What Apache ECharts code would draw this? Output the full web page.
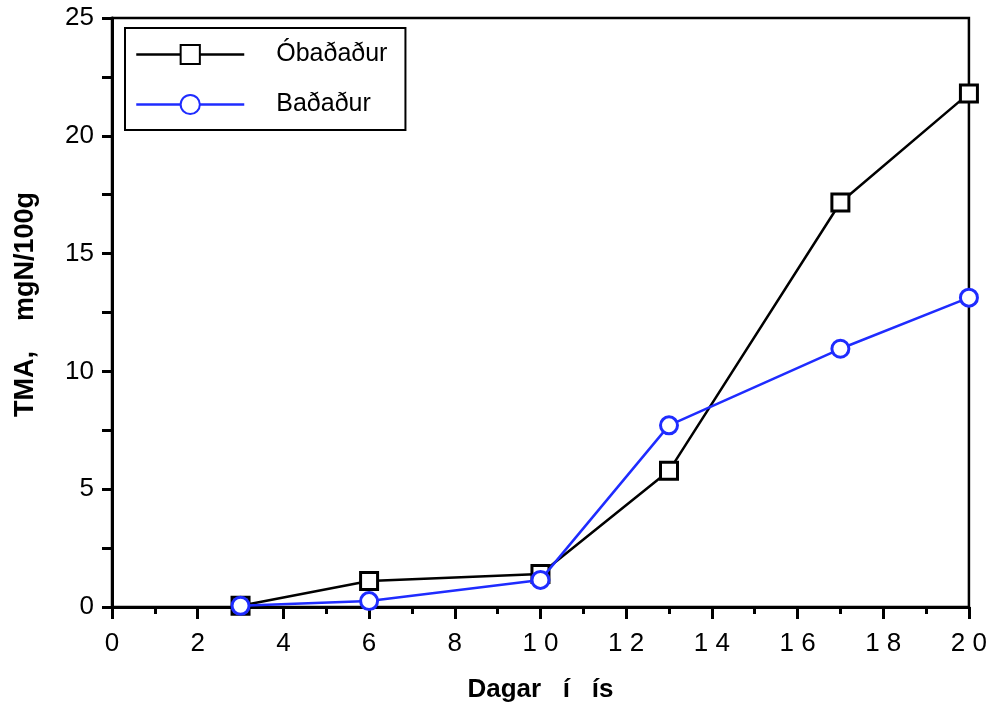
<!DOCTYPE html>
<html>
<head>
<meta charset="utf-8">
<script src="https://cdn.jsdelivr.net/npm/echarts@6/dist/echarts.min.js"></script>
<style>html,body{margin:0;padding:0;background:#fff;}#c{width:990px;height:708px;}</style>
</head>
<body>
<div id="c"></div>
<script>
const days = [3, 6, 10, 13, 17, 20];
const obadadur = [0.05, 1.1, 1.4, 5.78, 17.17, 21.8];
const badadur = [0.05, 0.25, 1.15, 7.71, 10.96, 13.13];
const seriesNames = ['Óbaðaður', 'Baðaður'];
const xTitle = 'Dagar   í   ís';
const yTitle = 'TMA,    mgN/100g';

const chart = echarts.init(document.getElementById('c'), null, {renderer: 'canvas'});
const font = 'Liberation Sans, Arial, sans-serif';
const blue = '#1f2cff';
chart.setOption({
  animation: false,
  backgroundColor: '#fff',
  grid: {left: 112, right: 18, top: 18, bottom: 99, show: true, borderColor: '#000', borderWidth: 2.5},
  legend: {
    orient: 'vertical', left: 125, top: 28,
    padding: [14, 18, 13, 10],
    borderColor: '#000', borderWidth: 2, borderRadius: 0,
    itemWidth: 108, itemHeight: 24, itemGap: 25,
    lineStyle: {width: 2.5},
    textStyle: {fontFamily: font, fontSize: 25, color: '#000', padding: [0, 0, 0, 27]},
    data: seriesNames
  },
  xAxis: {
    type: 'value', min: 0, max: 20, interval: 2,
    name: xTitle, nameLocation: 'middle', nameGap: 70,
    nameTextStyle: {fontFamily: font, fontSize: 26, fontWeight: 'bold', color: '#000'},
    axisLine: {show: true, onZero: false, lineStyle: {color: '#000', width: 3}},
    axisTick: {show: true, length: 12, lineStyle: {color: '#000', width: 3}},
    minorTick: {show: true, splitNumber: 2, length: 7, lineStyle: {color: '#000', width: 3}},
    splitLine: {show: false},
    axisLabel: {fontFamily: font, fontSize: 26, color: '#000', margin: 24,
      formatter: v => String(v).split('').join(' ')}
  },
  yAxis: {
    type: 'value', min: 0, max: 25, interval: 5,
    name: yTitle, nameLocation: 'middle', nameGap: 73,
    nameTextStyle: {fontFamily: font, fontSize: 27, fontWeight: 'bold', color: '#000', padding: [0, 0, 0, 16]},
    axisLine: {show: true, lineStyle: {color: '#000', width: 3}},
    axisTick: {show: true, length: 10, lineStyle: {color: '#000', width: 3}},
    minorTick: {show: true, splitNumber: 2, length: 10, lineStyle: {color: '#000', width: 3}},
    splitLine: {show: false},
    axisLabel: {fontFamily: font, fontSize: 26, color: '#000', margin: 18}
  },
  series: [
    {
      name: seriesNames[0], type: 'line',
      data: days.map((d, i) => [d, obadadur[i]]),
      symbol: 'rect', symbolSize: 17,
      lineStyle: {color: '#000', width: 2.5},
      itemStyle: {color: '#fff', borderColor: '#000', borderWidth: 3},
      z: 2
    },
    {
      name: seriesNames[1], type: 'line',
      data: days.map((d, i) => [d, badadur[i]]),
      symbol: 'circle', symbolSize: 17,
      lineStyle: {color: blue, width: 2.5},
      itemStyle: {color: '#fff', borderColor: blue, borderWidth: 3},
      z: 3
    }
  ]
});
</script>
</body>
</html>
